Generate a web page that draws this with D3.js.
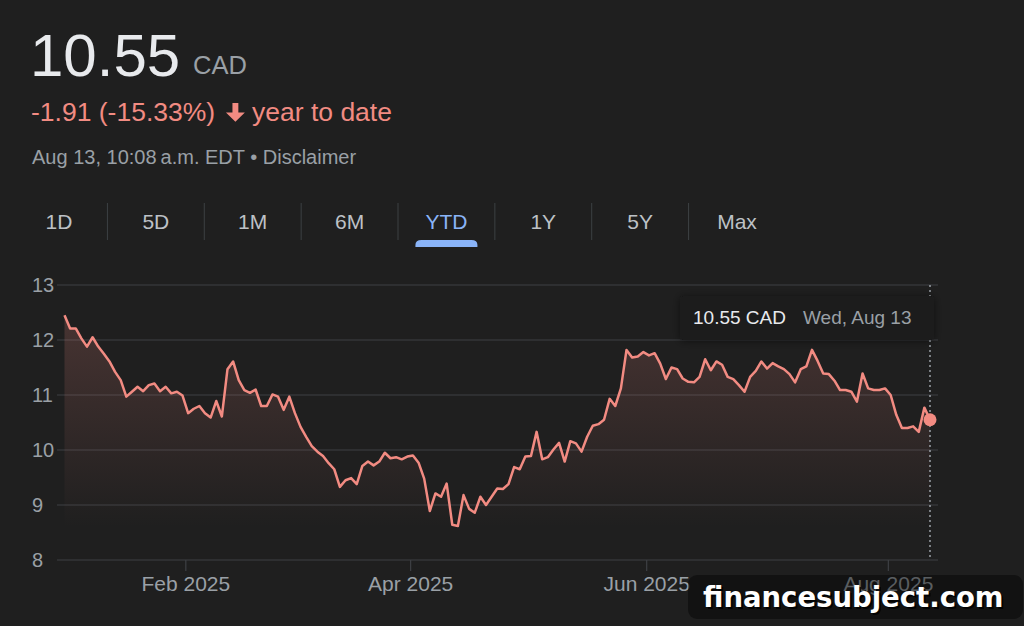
<!DOCTYPE html>
<html>
<head>
<meta charset="utf-8">
<script src="https://cdnjs.cloudflare.com/ajax/libs/d3/7.8.5/d3.min.js"></script>
<style>
html, body { margin: 0; padding: 0; background: #1f1f1f; }
svg { display: block; font-family: "Liberation Sans", Arial, sans-serif; }
</style>
</head>
<body>
<div id="chart"></div>
<script>
// daily closes, one per trading session, Jan 2 -> Aug 13 2025
var prices = [12.45, 12.21, 12.21, 12.03, 11.88, 12.05, 11.88, 11.75, 11.61, 11.42,
	11.27, 10.97, 11.06, 11.15, 11.07, 11.18, 11.21, 11.07, 11.15, 11.03,
	11.06, 10.99, 10.67, 10.75, 10.80, 10.67, 10.59, 10.89, 10.61, 11.47,
	11.61, 11.27, 11.09, 11.04, 11.10, 10.80, 10.80, 11.01, 10.97, 10.73,
	10.97, 10.67, 10.42, 10.24, 10.07, 9.97, 9.89, 9.76, 9.65, 9.33,
	9.45, 9.49, 9.38, 9.71, 9.79, 9.72, 9.79, 9.95, 9.85, 9.87,
	9.83, 9.88, 9.90, 9.77, 9.48, 8.89, 9.21, 9.15, 9.39, 8.64,
	8.62, 9.18, 8.93, 8.86, 9.15, 9.00, 9.15, 9.30, 9.29, 9.38,
	9.69, 9.65, 9.88, 9.89, 10.33, 9.83, 9.87, 10.01, 10.13, 9.79,
	10.16, 10.12, 9.97, 10.24, 10.44, 10.47, 10.55, 10.93, 10.80, 11.12,
	11.82, 11.68, 11.70, 11.78, 11.72, 11.76, 11.57, 11.29, 11.50, 11.47,
	11.30, 11.24, 11.23, 11.33, 11.65, 11.45, 11.61, 11.55, 11.33, 11.29,
	11.18, 11.06, 11.33, 11.44, 11.61, 11.48, 11.58, 11.52, 11.47, 11.38,
	11.23, 11.47, 11.52, 11.82, 11.62, 11.39, 11.38, 11.26, 11.09, 11.09,
	11.06, 10.88, 11.39, 11.12, 11.09, 11.09, 11.12, 11.00, 10.64, 10.40,
	10.40, 10.43, 10.33, 10.77, 10.55];

var months = ["Jan", "Feb", "Mar", "Apr", "May", "Jun", "Jul", "Aug"];
var sessionsPerMonth = [22, 19, 21, 21, 21, 21, 22, 8];
var tickMonths = ["Feb", "Apr", "Jun", "Aug"];
var year = 2025;
var yTicks = [8, 9, 10, 11, 12, 13];

var tabs = ["1D", "5D", "1M", "6M", "YTD", "1Y", "5Y", "Max"];
var activeTab = "YTD";

var lastPrice = "10.55";
var currency = "CAD";
var changeText = "-1.91 (-15.33%)";
var periodText = "year to date";
var stampText = "Aug 13, 10:08\u202fa.m. EDT \u2022 Disclaimer";
var hoverDate = "Wed, Aug 13";
var watermark = "financesubject.com";

var red = "#f28b82";
var grey = "#9aa0a6";
var gridCol = "#3e4044";

var W = 1024, H = 626;
var svg = d3.select("#chart").append("svg").attr("width", W).attr("height", H);

svg.append("rect").attr("width", W).attr("height", H).attr("fill", "#1f1f1f");

// ---- header
svg.append("text").attr("x", 30).attr("y", 76)
	.attr("font-size", 60).attr("fill", "#e8eaed").text(lastPrice);
svg.append("text").attr("x", 193).attr("y", 74)
	.attr("font-size", 25.5).attr("fill", grey).text(currency);

svg.append("text").attr("x", 31).attr("y", 121)
	.attr("font-size", 26.5).attr("fill", red).text(changeText);
// solid down arrow
svg.append("path")
	.attr("d", "M9.2 3h5.6v9.2h6.2l-9 8.8-9-8.8h6.2z")
	.attr("transform", "translate(222.8,99.8) scale(1.05)")
	.attr("fill", red);
svg.append("text").attr("x", 252).attr("y", 121)
	.attr("font-size", 26.5).attr("fill", red).text(periodText);

svg.append("text").attr("x", 32).attr("y", 164)
	.attr("font-size", 20).attr("fill", grey).text(stampText);

// ---- range tabs
var tabX = d3.scalePoint().domain(tabs).range([59, 737]);
var step = tabX.step();

svg.selectAll(".tabSep").data(tabs.slice(1)).enter().append("line")
	.attr("class", "tabSep")
	.attr("x1", function(d){ return tabX(d) - step / 2; })
	.attr("x2", function(d){ return tabX(d) - step / 2; })
	.attr("y1", 203).attr("y2", 240)
	.attr("stroke", "#3c4043").attr("stroke-width", 1);

svg.selectAll(".tab").data(tabs).enter().append("text")
	.attr("class", "tab")
	.attr("x", function(d){ return tabX(d); })
	.attr("y", 229)
	.attr("text-anchor", "middle")
	.attr("font-size", 21)
	.attr("fill", function(d){ return d == activeTab ? "#8ab4f8" : "#bdc1c6"; })
	.text(function(d){ return d; });

var ax = tabX(activeTab);
svg.append("path")
	.attr("d", "M" + (ax - 31) + ",247 V245 Q" + (ax - 31) + ",240 " + (ax - 25) + ",240 H" + (ax + 25) +
		" Q" + (ax + 31) + ",240 " + (ax + 31) + ",245 V247 Z")
	.attr("fill", "#8ab4f8");

// ---- chart
var x = d3.scaleLinear().domain([0, prices.length - 1]).range([64.5, 930]);
var y = d3.scaleLinear().domain([8, 13]).range([560, 285]);

svg.selectAll(".grid").data(yTicks).enter().append("line")
	.attr("class", "grid")
	.attr("x1", 57).attr("x2", 938)
	.attr("y1", function(d){ return y(d); })
	.attr("y2", function(d){ return y(d); })
	.attr("stroke", gridCol).attr("stroke-width", 1.2);

svg.selectAll(".ylab").data(yTicks).enter().append("text")
	.attr("class", "ylab")
	.attr("x", 32)
	.attr("y", function(d){ return y(d); })
	.attr("dy", "0.36em")
	.attr("font-size", 20)
	.attr("fill", grey)
	.text(function(d){ return d; });

// month boundaries in session units
var ends = d3.cumsum(sessionsPerMonth);
var tickPos = tickMonths.map(function(m){
	return ends[months.indexOf(m) - 1] - 0.5;
});

var xAxis = d3.axisBottom(x)
	.tickValues(tickPos)
	.tickSize(11)
	.tickPadding(5)
	.tickFormat(function(d, i){ return tickMonths[i] + " " + year; });

var gx = svg.append("g").attr("transform", "translate(0,560)").call(xAxis);
gx.select(".domain").remove();
gx.selectAll("line").attr("stroke", gridCol).attr("stroke-width", 1.2);
gx.selectAll("text").attr("font-size", 21).attr("fill", grey)
	.attr("font-family", "Liberation Sans, Arial, sans-serif");

var defs = svg.append("defs");
var grad = defs.append("linearGradient").attr("id", "fillGrad")
	.attr("gradientUnits", "userSpaceOnUse")
	.attr("x1", 0).attr("x2", 0).attr("y1", y(12.6)).attr("y2", y(8.6));
grad.append("stop").attr("offset", 0).attr("stop-color", red).attr("stop-opacity", 0.2);
grad.append("stop").attr("offset", 1).attr("stop-color", red).attr("stop-opacity", 0);

var shadow = defs.append("filter").attr("id", "tipShadow")
	.attr("x", -0.2).attr("y", -0.5).attr("width", 1.4).attr("height", 2);
shadow.append("feDropShadow").attr("dx", 0).attr("dy", 1).attr("stdDeviation", 4)
	.attr("flood-color", "#000").attr("flood-opacity", 0.5);

var area = d3.area()
	.x(function(d, i){ return x(i); })
	.y0(y(8))
	.y1(function(d){ return y(d); });

var line = d3.line()
	.x(function(d, i){ return x(i); })
	.y(function(d){ return y(d); });

svg.append("path").datum(prices).attr("d", area).attr("fill", "url(#fillGrad)");
svg.append("path").datum(prices).attr("d", line)
	.attr("fill", "none").attr("stroke", red)
	.attr("stroke-width", 2.5).attr("stroke-linejoin", "round");

var last = prices.length - 1;

// hover line + tooltip
svg.append("line")
	.attr("x1", x(last)).attr("x2", x(last))
	.attr("y1", y(13)).attr("y2", y(8))
	.attr("stroke", grey).attr("stroke-width", 1.5)
	.attr("stroke-dasharray", "2,3");

var tip = svg.append("g");
tip.append("rect").attr("x", 680).attr("y", 296).attr("width", 254).attr("height", 44)
	.attr("rx", 3).attr("fill", "#1b1b1b").attr("filter", "url(#tipShadow)");
tip.append("text").attr("x", 693).attr("y", 324)
	.attr("font-size", 19).attr("fill", "#e8eaed")
	.text(lastPrice + " " + currency);
tip.append("text").attr("x", 803).attr("y", 324)
	.attr("font-size", 19).attr("fill", grey)
	.text(hoverDate);

svg.append("circle")
	.attr("cx", x(last)).attr("cy", y(prices[last]))
	.attr("r", 6.5).attr("fill", red);

// ---- watermark
svg.append("rect").attr("x", 688).attr("y", 575).attr("width", 335).attr("height", 44)
	.attr("rx", 9).attr("fill", "rgba(0,0,0,0.42)");
svg.append("text").attr("x", 705).attr("y", 609)
	.attr("font-family", "DejaVu Sans").attr("font-weight", "bold")
	.attr("font-size", 27.5).attr("fill", "#000").attr("opacity", 0.8)
	.text(watermark);
svg.append("text").attr("x", 703).attr("y", 607)
	.attr("font-family", "DejaVu Sans").attr("font-weight", "bold")
	.attr("font-size", 27.5).attr("fill", "#fff")
	.text(watermark);
</script>
</body>
</html>
